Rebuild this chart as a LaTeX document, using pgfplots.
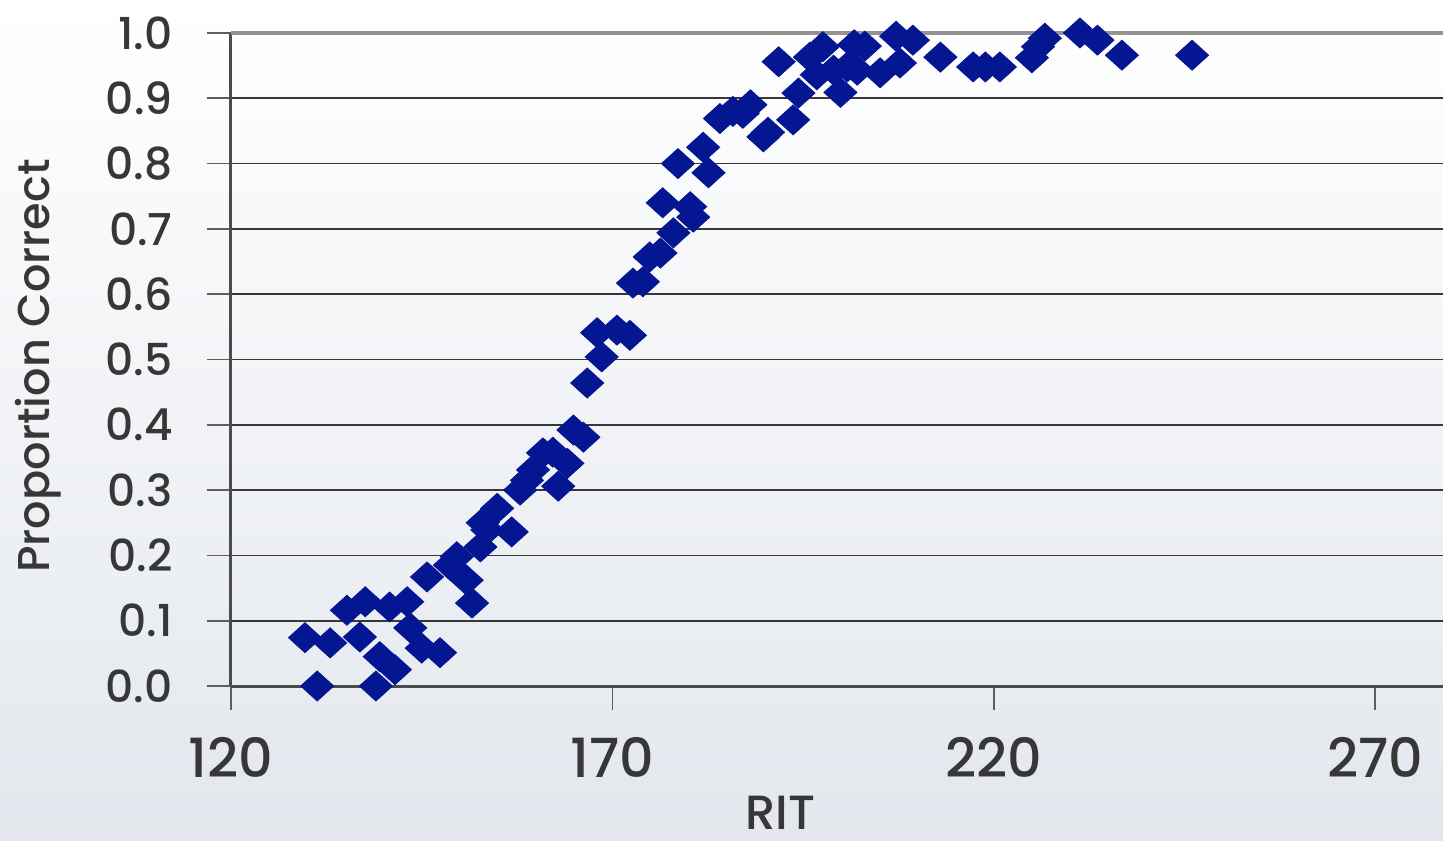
\documentclass[border=0pt]{standalone}
\usepackage{fontspec}
\setmainfont{Poppins}[UprightFont={Poppins Medium}]
\usepackage{pgfplots}
\pgfplotsset{compat=1.18}
\definecolor{markblue}{RGB}{4,22,145}
\definecolor{txt}{RGB}{55,55,55}
\definecolor{bgtop}{RGB}{255,255,255}
\definecolor{bgbot}{RGB}{227,231,237}
\definecolor{gridc}{RGB}{55,55,55}

\begin{document}
\begin{tikzpicture}
\shade[top color=bgtop, bottom color=bgbot] (-115.5pt,-77pt) rectangle (606pt,343pt);
\useasboundingbox (-115.5pt,-77pt) rectangle (606pt,343pt);
\begin{axis}[
  at={(0,0)}, anchor=south west,
  scale only axis,
  width=606pt, height=326.5pt,
  xmin=120, xmax=278.9,
  ymin=0, ymax=1,
  axis x line*=bottom, axis y line*=left,
  axis line style={line width=1.5pt, color=gridc!90},
  xtick={120,170,220,270},
  ytick={0,0.1,0.2,0.3,0.4,0.5,0.6,0.7,0.8,0.9,1.0},
  yticklabel style={/pgf/number format/fixed, /pgf/number format/fixed zerofill, /pgf/number format/precision=1},
  /pgf/number format/assume math mode=true,
  tick align=outside,
  major tick length=12pt,
  tick style={color=gridc!80, line width=0.8pt},
  ymajorgrids,
  grid style={color=gridc, line width=0.8pt},
  ticklabel style={color=txt},
  yticklabel style={font=\fontsize{22}{22}\selectfont, anchor=east, inner sep=0pt, xshift=-17pt},
  xticklabel style={font=\fontsize{27}{27}\selectfont, anchor=center, inner sep=0pt, yshift=-23.5pt},
  xlabel={RIT},
  ylabel={Proportion Correct},
  label style={color=txt, inner sep=0pt},
  xlabel style={font=\fontsize{24}{24}\selectfont, at={(axis description cs:0.453,0)}, anchor=center, yshift=-63.5pt},
  ylabel style={font=\fontsize{22.3}{22.3}\selectfont, at={(axis description cs:0,0.49)}, anchor=base, yshift=90.5pt},
  clip=false,
]
\draw[color=gray!85, line width=2pt] (axis cs:120,1) -- (axis cs:278.9,1);
\addplot[
  only marks,
  mark=diamond*,
  mark size=7.5pt,
  mark options={xscale=1.47, fill=markblue, draw=markblue, rounded corners=1.2pt},
] table {
x y
131.3 0.000
129.7 0.074
133.0 0.066
136.9 0.075
135.2 0.116
137.6 0.129
140.8 0.121
143.1 0.129
143.5 0.089
145.0 0.058
147.4 0.051
139.0 0.000
139.5 0.045
141.5 0.025
145.7 0.167
148.7 0.185
149.6 0.198
150.9 0.162
151.6 0.127
152.7 0.213
153.6 0.239
153.0 0.250
154.9 0.272
156.8 0.236
157.9 0.300
158.8 0.315
159.6 0.331
160.9 0.357
162.2 0.358
162.9 0.306
164.1 0.341
164.9 0.392
166.2 0.381
166.7 0.464
168.6 0.504
168.0 0.541
170.6 0.545
172.3 0.537
172.7 0.617
174.0 0.619
174.9 0.657
176.3 0.663
178.0 0.694
176.6 0.740
180.2 0.734
180.6 0.718
178.6 0.800
181.9 0.825
182.6 0.786
184.1 0.869
185.8 0.880
187.1 0.877
188.1 0.890
189.8 0.841
190.4 0.848
193.7 0.867
191.8 0.956
195.9 0.963
197.6 0.979
194.4 0.908
196.8 0.936
199.0 0.943
199.9 0.909
200.8 0.948
201.7 0.982
203.1 0.980
202.1 0.943
205.1 0.939
207.7 0.954
207.2 0.995
209.4 0.989
213.0 0.963
217.3 0.948
218.9 0.948
220.8 0.948
225.0 0.962
225.8 0.979
226.7 0.992
231.3 1.000
233.6 0.989
236.8 0.966
246.0 0.966
};
\end{axis}
\end{tikzpicture}
\end{document}
